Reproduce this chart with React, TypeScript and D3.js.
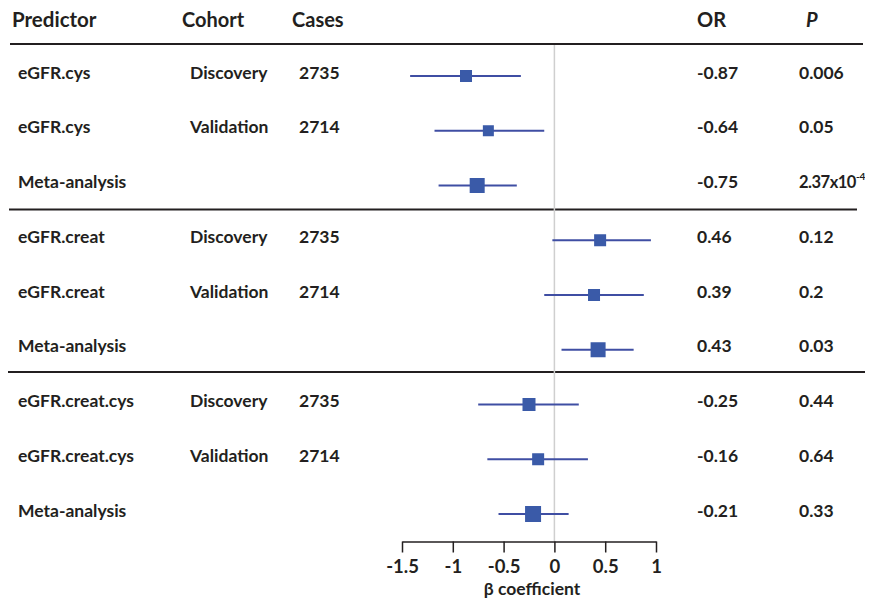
import React, { useEffect, useRef } from "react"
import * as d3 from "d3"

const predictors = ["eGFR.cys", "eGFR.cys", "Meta-analysis", "eGFR.creat", "eGFR.creat", "Meta-analysis", "eGFR.creat.cys", "eGFR.creat.cys", "Meta-analysis"]
const cohorts = ["Discovery", "Validation", "", "Discovery", "Validation", "", "Discovery", "Validation", ""]
const cases = ["2735", "2714", "", "2735", "2714", "", "2735", "2714", ""]
const beta = [-0.87, -0.65, -0.76, 0.45, 0.39, 0.43, -0.25, -0.16, -0.21]
const lower = [-1.42, -1.18, -1.14, -0.02, -0.10, 0.07, -0.75, -0.66, -0.55]
const upper = [-0.33, -0.10, -0.37, 0.95, 0.88, 0.78, 0.24, 0.33, 0.14]
const weights = [12, 11, 15, 12, 12, 15, 13, 12, 16]
const orLabels = ["-0.87", "-0.64", "-0.75", "0.46", "0.39", "0.43", "-0.25", "-0.16", "-0.21"]
const pLabels = ["0.006", "0.05", "2.37x10|-4", "0.12", "0.2", "0.03", "0.44", "0.64", "0.33"]
const xTicks = [-1.5, -1, -0.5, 0, 0.5, 1]

const W = 873
const H = 606
const FONT = "Lato, 'Open Sans', sans-serif"
const INK = "#231f20"

export default function App() {
  const svgRef = useRef<SVGSVGElement>(null)

  useEffect(() => {
    const svg = d3.select(svgRef.current)
    svg.selectAll("*").remove()

    const x = d3.scaleLinear().domain([-1.5, 1]).range([402, 656])
    const y = d3.scalePoint<number>().domain(d3.range(beta.length)).range([76, 514])

    const text = (tx: number, ty: number, s: string, size = 17.5, italic = false) =>
      svg.append("text").attr("x", tx).attr("y", ty).text(s)
        .attr("font-family", FONT).attr("font-weight", 700).attr("font-size", size)
        .attr("fill", INK).attr("font-style", italic ? "italic" : "normal")

    // header
    text(12, 27, "Predictor", 20.5)
    text(182, 27, "Cohort", 20)
    text(292, 27, "Cases", 20)
    text(697, 27, "OR", 20)
    text(806, 27, "P", 20, true)

    // separators
    const seps = [
      { y: 44, x1: 10, x2: 863 },
      { y: 209.5, x1: 9, x2: 857 },
      { y: 372, x1: 7, x2: 865 },
    ]
    svg.append("g").selectAll("line").data(seps).join("line")
      .attr("x1", (d) => d.x1).attr("x2", (d) => d.x2)
      .attr("y1", (d) => d.y).attr("y2", (d) => d.y)
      .attr("stroke", INK).attr("stroke-width", 2)

    // zero reference
    svg.append("line")
      .attr("x1", x(0)).attr("x2", x(0)).attr("y1", 45).attr("y2", 541)
      .attr("stroke", "#cfcfcf").attr("stroke-width", 1.5)

    // row texts
    beta.forEach((_, i) => {
      const ry = (y(i) ?? 0) + 2.5
      text(18, ry, predictors[i])
      if (cohorts[i]) text(190, ry, cohorts[i])
      if (cases[i]) text(299, ry, cases[i])
      text(697, ry, orLabels[i])
      const [base, sup] = pLabels[i].split("|")
      const t = text(799, ry, "")
      if (sup) {
        t.append("tspan").attr("font-size", 16.5).attr("letter-spacing", -0.5).text(base)
        t.append("tspan").attr("font-size", 10).attr("dy", -8).text(sup)
      } else {
        t.text(base)
      }
    })

    // CI lines
    svg.append("g").selectAll("line").data(beta).join("line")
      .attr("x1", (_, i) => x(lower[i])).attr("x2", (_, i) => x(upper[i]))
      .attr("y1", (_, i) => y(i) ?? 0).attr("y2", (_, i) => y(i) ?? 0)
      .attr("stroke", "#3f4ea3").attr("stroke-width", 2)

    // squares
    svg.append("g").selectAll("rect").data(beta).join("rect")
      .attr("x", (d, i) => x(d) - weights[i] / 2)
      .attr("y", (_, i) => (y(i) ?? 0) - weights[i] / 2)
      .attr("width", (_, i) => weights[i]).attr("height", (_, i) => weights[i])
      .attr("fill", "#3a5aa8")

    // axis
    const ax = svg.append("g").attr("transform", "translate(0,541.5)")
      .call(d3.axisBottom(x).tickValues(xTicks).tickSize(11).tickSizeOuter(0).tickFormat((d) => String(d)))
    ax.select(".domain").attr("stroke", INK).attr("stroke-width", 1.5)
    ax.selectAll(".tick line").attr("stroke", INK).attr("stroke-width", 1.5)
    ax.selectAll(".tick text").attr("font-family", FONT).attr("font-weight", 700)
      .attr("font-size", 18.5).attr("fill", INK).attr("dy", "0.95em")

    svg.append("text").attr("x", x(-0.22)).attr("y", 595).attr("text-anchor", "middle")
      .attr("font-family", FONT).attr("font-weight", 700).attr("font-size", 17.5).attr("fill", INK)
      .text("β coefficient")
  }, [])

  return (
    <div style={{ margin: -8 }}>
      <svg ref={svgRef} width={W} height={H} style={{ display: "block", background: "#fff" }} />
    </div>
  )
}
